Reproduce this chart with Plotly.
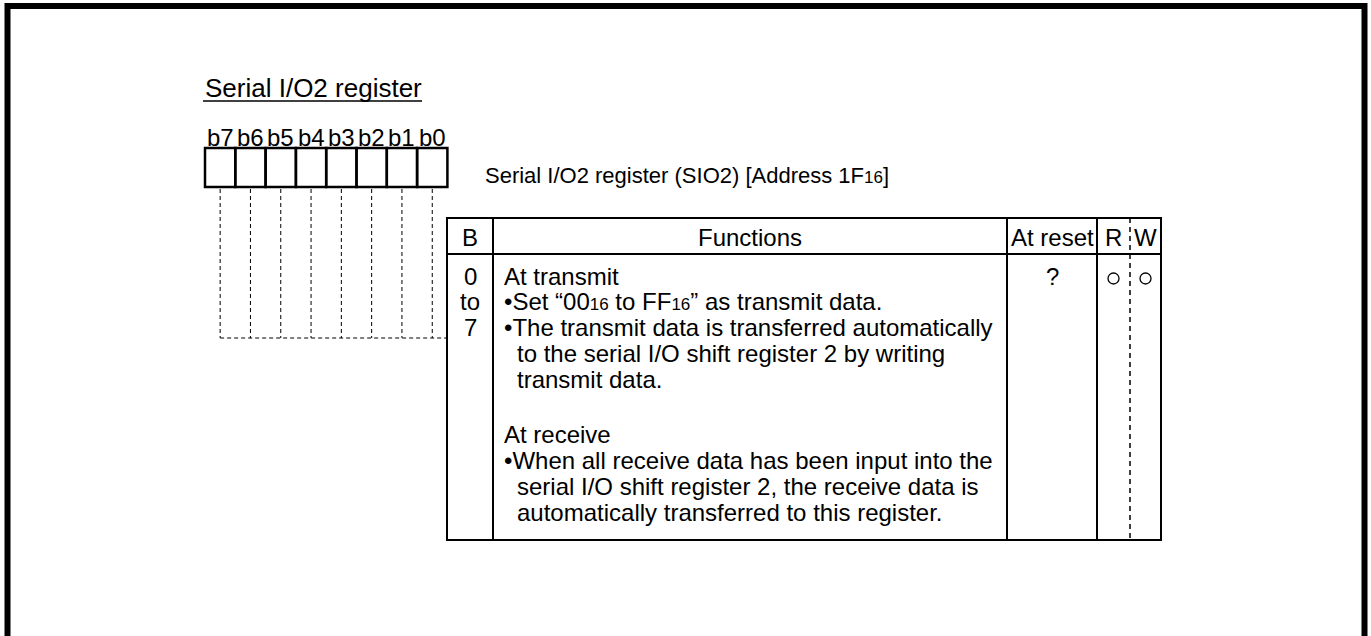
import plotly.graph_objects as go

# ---------------- content ----------------
title_text = "Serial I/O2 register"
bit_labels = ["b7", "b6", "b5", "b4", "b3", "b2", "b1", "b0"]
SUB16 = '<span style="font-size:17px">16</span>'
register_name = "Serial I/O2 register (SIO2) [Address 1F" + SUB16 + "]"
table_headers = ["B", "Functions", "At reset", "R", "W"]
bit_range_lines = ["0", "to", "7"]
function_lines = [
    ("At transmit", 0),
    ("•Set “00" + SUB16 + " to FF" + SUB16 + "” as transmit data.", 0),
    ("•The transmit data is transferred automatically", 0),
    ("to the serial I/O shift register 2 by writing", 1),
    ("transmit data.", 1),
    ("At receive", 0),
    ("•When all receive data has been input into the", 0),
    ("serial I/O shift register 2, the receive data is", 1),
    ("automatically transferred to this register.", 1),
]
reset_value = "?"

# ---------------- layout constants (pixels) ----------------
W, H = 1371, 636
FONT = "Liberation Sans, Arial, Helvetica, sans-serif"
box_x0, box_w, box_y0, box_y1 = 205, 30.3, 148, 187
dash_bottom = 338
tbl_x = [447, 493, 1007, 1097, 1130, 1161]   # column edges (1130 dashed)
tbl_y0, tbl_hdr, tbl_y1 = 218, 254, 540
line_ys = [276, 301.8, 327.6, 353.4, 379.2, 434.6, 460.4, 486.2, 512]
text_x, indent = 502, 13

fig = go.Figure()
shapes = []
ann = []

def line(x0, y0, x1, y1, w=2, dash=None):
    ln = dict(color="black", width=w)
    if dash:
        ln["dash"] = dash
    shapes.append(dict(type="line", x0=x0, y0=y0, x1=x1, y1=y1, xref="x", yref="y", line=ln))

def text(x, y, s, size=24, xanchor="left"):
    ann.append(dict(x=x, y=y, xref="x", yref="y", text=s, showarrow=False,
                    xanchor=xanchor, yanchor="middle",
                    font=dict(family=FONT, size=size, color="black")))

# outer frame
shapes.append(dict(type="rect", x0=7.5, y0=6, x1=1364.5, y1=660, xref="x", yref="y",
                   line=dict(color="black", width=6)))

# title + underline
text(203, 88, title_text, size=26)
line(203, 101, 422, 101, w=1.5)

# bit boxes, labels, dashed leaders
for i, lab in enumerate(bit_labels):
    x0 = box_x0 + i * box_w
    xc = x0 + box_w / 2
    shapes.append(dict(type="rect", x0=x0, y0=box_y0, x1=x0 + box_w, y1=box_y1,
                       xref="x", yref="y", line=dict(color="black", width=2.5)))
    text(xc, 137, lab, size=24, xanchor="center")
    line(xc, box_y1 + 2, xc, dash_bottom, w=1, dash="4px,3px")
line(box_x0 + box_w / 2, dash_bottom, tbl_x[0], dash_bottom, w=1, dash="4px,3px")

text(483, 175, register_name, size=22)

# table
shapes.append(dict(type="rect", x0=tbl_x[0], y0=tbl_y0, x1=tbl_x[-1], y1=tbl_y1,
                   xref="x", yref="y", line=dict(color="black", width=2)))
for xe in tbl_x[1:4]:
    line(xe, tbl_y0, xe, tbl_y1, w=2)
line(tbl_x[4], tbl_y0, tbl_x[4], tbl_y1, w=1.5, dash="5px,4px")
line(tbl_x[0], tbl_hdr, tbl_x[-1], tbl_hdr, w=2)

hdr_y = (tbl_y0 + tbl_hdr) / 2 + 1
col_centers = [(tbl_x[i] + tbl_x[i + 1]) / 2 for i in range(5)]
for c, h in zip(col_centers, table_headers):
    text(c, hdr_y, h, size=24, xanchor="center")

for k, s in enumerate(bit_range_lines):
    text(col_centers[0], line_ys[k], s, size=24, xanchor="center")

for (s, ind), y in zip(function_lines, line_ys):
    text(text_x + ind * indent, y, s, size=24)

text(col_centers[2], line_ys[0], reset_value, size=24, xanchor="center")
for c in col_centers[3:]:
    shapes.append(dict(type="circle", x0=c - 5.5, y0=line_ys[0] - 3, x1=c + 5.5, y1=line_ys[0] + 8,
                       xref="x", yref="y", line=dict(color="black", width=1.3)))

fig.update_layout(
    width=W, height=H, margin=dict(l=0, r=0, t=0, b=0),
    paper_bgcolor="white", plot_bgcolor="white",
    xaxis=dict(range=[0, W], visible=False, fixedrange=True),
    yaxis=dict(range=[H, 0], visible=False, fixedrange=True),
    shapes=shapes, annotations=ann, showlegend=False,
)
fig.write_html("out.html", config={"displayModeBar": False},
               post_script="document.body.style.margin='0';document.body.style.overflow='hidden';")
